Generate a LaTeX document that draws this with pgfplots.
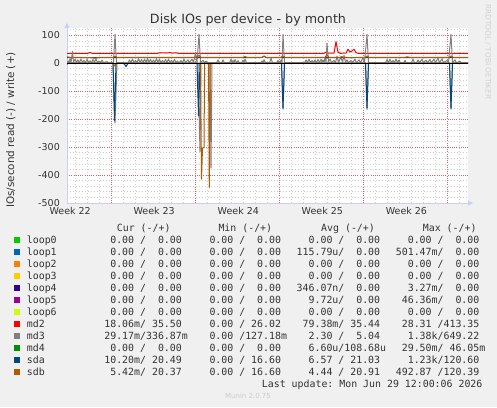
\documentclass[border=0pt]{standalone}
\usepackage{fontspec}
\setmainfont{DejaVu Sans}
\setmonofont{DejaVu Sans Mono}
\usepackage{pgfplots}
\pgfplotsset{compat=1.18}
\usetikzlibrary{arrows.meta}
\definecolor{bgc}{HTML}{F0F0F0}
\definecolor{txt}{HTML}{333333}
\definecolor{axc}{HTML}{C8D0F4}
\definecolor{gridc}{HTML}{CCCCCC}
\definecolor{mgridc}{HTML}{E06060}
\definecolor{cloopa}{HTML}{00CC00}
\definecolor{cloopb}{HTML}{0066B3}
\definecolor{cloopc}{HTML}{FF8000}
\definecolor{cloopd}{HTML}{FFCC00}
\definecolor{cloope}{HTML}{330099}
\definecolor{cloopf}{HTML}{990099}
\definecolor{cloopg}{HTML}{CCFF00}
\definecolor{cmdb}{HTML}{FF0000}
\definecolor{cmdc}{HTML}{808080}
\definecolor{cmdd}{HTML}{008F00}
\definecolor{csda}{HTML}{00487D}
\definecolor{csdb}{HTML}{B35A00}
\newcommand\lfont{\ttfamily\fontsize{9.9}{11}\selectfont}
\newcommand\lrow[7]{%
  \pgfmathsetmacro\by{163.7-12*#1}%
  \fill[#2] (14,\by+0.6) rectangle (20,\by+6.0);%
  \node[anchor=base west, inner sep=0pt, font=\lfont, text=txt] at (26.7,\by) {#3};%
  \node[anchor=base west, inner sep=0pt, font=\lfont, text=txt] at (98.2,\by) {#4};%
  \node[anchor=base west, inner sep=0pt, font=\lfont, text=txt] at (197.4,\by) {#5};%
  \node[anchor=base west, inner sep=0pt, font=\lfont, text=txt] at (296.5,\by) {#6};%
  \node[anchor=base west, inner sep=0pt, font=\lfont, text=txt] at (395.7,\by) {#7};%
}
\begin{document}
\begin{tikzpicture}[x=1pt,y=1pt]
\useasboundingbox (0,0) rectangle (497,407);
\fill[bgc] (0,0) rectangle (497,407);
\begin{axis}[
  at={(67pt,204pt)}, anchor=south west,
  width=401pt, height=175pt, scale only axis,
  xmin=67, xmax=468, ymin=-500, ymax=126,
  axis lines=left,
  axis line style={draw=axc, line width=0.9pt, shorten >=-5pt, -{Triangle[length=5pt,width=5pt]}},
  axis background/.style={fill=white},
  major tick length=0pt, minor tick length=0pt,
  xtick={111.2,195.3,279.3,363.4,447.4},
  xticklabels={},
  minor xtick={75.2,87.2,99.2,123.2,135.2,147.2,159.3,171.3,183.3,207.3,219.3,231.3,243.3,255.3,267.3,291.3,303.3,315.3,327.3,339.4,351.4,375.4,387.4,399.4,411.4,423.4,435.4,459.4},
  extra x ticks={70.2,154.2,238.3,322.3,406.4},
  extra x tick labels={Week 22,Week 23,Week 24,Week 25,Week 26},
  extra x tick style={grid=none},
  ytick={-500,-400,-300,-200,-100,0,100},
  yticklabels={-500,-400,-300,-200,-100,0,100},
  minor ytick={-480,-460,-440,-420,-380,-360,-340,-320,-280,-260,-240,-220,-180,-160,-140,-120,-80,-60,-40,-20,20,40,60,80,120},
  xmajorgrids=true, ymajorgrids=true, yminorgrids=true, xminorgrids=true,
  major grid style={draw=mgridc, line width=0.8pt, dash pattern=on 1pt off 1.2pt},
  minor grid style={draw=gridc, line width=0.7pt, dash pattern=on 1pt off 2pt},
  tick label style={font=\fontsize{9.5}{10}\selectfont, text=txt},
  xticklabel style={anchor=north, inner sep=0pt, yshift=-4.5pt},
  yticklabel style={anchor=east, inner sep=0pt, xshift=-7pt},
  every axis plot/.append style={line width=1pt, line join=round, mark=none},
]
% md2 write
\addplot[cmdb] coordinates {(67,35.5)(88,35.5)(90,38)(92,35.5)(158,35.5)(160,37.5)(166,36.5)(170,38)(172,36)(176,37.5)(178,35.5)(324,35.5)(326,40)(328,36)(334,36)(336,77)(338,40)(340,35.5)(346,36)(348,50)(350,40)(352,44)(354,50)(356,38)(358,35.5)(468,35.5)};
% md2 read
\addplot[cmdb] coordinates {(67,0)(468,0)};
% md3 read
\addplot[cmdc] coordinates {(67,0)(113,0)(115,-213)(117,0)(198,0)(200,-316)(201,0)(210,0)(211,-375)(212,0)(281.5,0)(283,-165)(284.5,0)(365.5,0)(367,-165)(368.5,0)(449.5,0)(451,-165)(452.5,0)(468,0)};
% md3 write
\addplot[cmdc] coordinates {(67,2)(68,8)(69,2)(70,16)(71,2)(72.5,42)(73.5,3)(75,14)(76.5,3)(78,12)(79.5,2)(81,15)(82.5,3)(84,10)(85.5,2)(87,14)(88.5,3)(90,9)(91.5,2)(93,13)(94.5,3)(96,16)(97.5,2)(99,8)(100.5,2)(102,11)(103.5,2)(107,6)(108.5,1)(113.5,1)(115,103)(116.5,1)(128,1)(129.5,12)(131,2)(132.5,15)(134,2)(135.5,10)(137,2)(138.5,16)(140,3)(141.5,13)(143,2)(144.5,15)(146,2)(147.5,17)(149,3)(150.5,14)(152,2)(153.5,12)(155,2)(156.5,16)(158,3)(159.5,14)(161,2)(162.5,10)(164,2)(165.5,13)(167,2)(168.5,15)(170,2)(171.5,11)(173,2)(174.5,14)(176,2)(177.5,8)(179,1)(181,10)(182.5,2)(184,15)(185.5,2)(188,12)(189.5,2)(192,14)(193.5,3)(195.5,37)(197,3)(199,103)(200.5,3)(203,10)(204.5,2)(206,8)(207.5,1)(216.5,1)(218,12)(219.5,1)(221.5,1)(223,12)(224.5,1)(229.5,1)(231,14)(232,3)(233,10)(234,3)(235,13)(236.5,2)(238,9)(239.5,1)(241.5,1)(243,11)(244,3)(245,15)(246.5,1)(260.5,1)(262,8)(263,2)(264,13)(265.5,1)(269.5,1)(271,18)(272.5,1)(276.5,1)(278,10)(279.5,1)(280,1)(281,12)(282,2)(283,103)(284.5,1)(304.5,1)(306,12)(307.5,2)(309,14)(310.5,2)(312,10)(313.5,2)(315,12)(316.5,2)(318,13)(319.5,2)(321,14)(322,3)(323,12)(324,3)(325,18)(326,4)(327,72)(328.5,4)(330,15)(331.5,2)(334,10)(335.5,2)(337,25)(338.5,3)(341,22)(342.5,3)(344,28)(345.5,3)(347,12)(348.5,2)(351,10)(352.5,2)(355,14)(356.5,2)(359,12)(360.5,2)(363,20)(364.5,2)(367,103)(368.5,1)(385.5,1)(387,13)(388.5,2)(390,14)(391.5,2)(393,10)(394.5,2)(396,15)(397.5,2)(399,12)(400.5,1)(403.5,1)(405,10)(406.5,1)(411.5,1)(413,15)(414.5,1)(416.5,1)(418,12)(419.5,2)(422,14)(423.5,2)(426,11)(427.5,2)(430,13)(431.5,2)(434,15)(435.5,2)(438,18)(439.5,2)(442,16)(443.5,2)(447,10)(448.5,2)(451,103)(452.5,1)(455,12)(456.5,1)(460,8)(461.5,1)(468,1)};
% sda read
\addplot[csda] coordinates {(67,-3)(69,0)(113,0)(114.5,-205)(116,0)(124,0)(126,-12)(128,0)(197,0)(198.5,-188)(200,0)(281.5,0)(283,-160)(284.5,0)(365.5,0)(367,-160)(368.5,0)(449.5,0)(451,-160)(452.5,0)(468,0)};
% sda write
\addplot[csda] coordinates {(67,20.3)(262,20.3)(264,26)(266,20.3)(468,20.3)};
% sdb read
\addplot[csdb] coordinates {(67,0)(113,0)(115,-10)(117,0)(200.5,0)(201.5,-415)(202.5,-303)(204,-303)(204.6,0)(208.5,0)(209.3,-444)(210.2,0)(468,0)};
% sdb write
\addplot[csdb] coordinates {(67,23)(70,21)(90,20)(95,18)(100,21)(113,21)(115,25)(117,21)(197,21)(199,28)(201,21)(243,21)(245,24)(247,21)(262,21)(264,24)(266,21)(281,21)(283,26)(285,21)(325,21)(327,30)(329,21)(340,21)(342,24)(344,18)(346,22)(348,20)(365,21)(367,26)(369,21)(405,21)(407,23)(410,21)(449,21)(451,26)(453,21)(468,21)};
% zero rule
\addplot[black, line width=1pt] coordinates {(67,0)(468,0)};
\end{axis}
% title
\node[anchor=base, inner sep=0pt, text=txt, font=\fontsize{12.7}{14}\selectfont] at (248,383.5) {Disk IOs per device - by month};
% y label
\node[rotate=90, inner sep=0pt, text=txt, font=\fontsize{10.4}{12}\selectfont] at (10.8,277) {IOs/second read (-) / write (+)};
% rrdtool label
\node[rotate=-90, inner sep=0pt, text=black!18, font=\fontsize{7.4}{8}\selectfont] at (488,355) {RRDTOOL / TOBI OETIKER};
% legend header
\node[anchor=base west, inner sep=0pt, font=\lfont, text=txt] at (116.7,175.7) {Cur~(-/+)};
\node[anchor=base west, inner sep=0pt, font=\lfont, text=txt] at (218.3,175.7) {Min~(-/+)};
\node[anchor=base west, inner sep=0pt, font=\lfont, text=txt] at (321,175.7) {Avg~(-/+)};
\node[anchor=base west, inner sep=0pt, font=\lfont, text=txt] at (422.7,175.7) {Max~(-/+)};
\lrow{0}{cloopa}{loop0}{~~0.00~/~~0.00}{~~0.00~/~~0.00}{~~0.00~/~~0.00}{~~0.00~/~~0.00}
\lrow{1}{cloopb}{loop1}{~~0.00~/~~0.00}{~~0.00~/~~0.00}{115.79u/~~0.00}{501.47m/~~0.00}
\lrow{2}{cloopc}{loop2}{~~0.00~/~~0.00}{~~0.00~/~~0.00}{~~0.00~/~~0.00}{~~0.00~/~~0.00}
\lrow{3}{cloopd}{loop3}{~~0.00~/~~0.00}{~~0.00~/~~0.00}{~~0.00~/~~0.00}{~~0.00~/~~0.00}
\lrow{4}{cloope}{loop4}{~~0.00~/~~0.00}{~~0.00~/~~0.00}{346.07n/~~0.00}{~~3.27m/~~0.00}
\lrow{5}{cloopf}{loop5}{~~0.00~/~~0.00}{~~0.00~/~~0.00}{~~9.72u/~~0.00}{~46.36m/~~0.00}
\lrow{6}{cloopg}{loop6}{~~0.00~/~~0.00}{~~0.00~/~~0.00}{~~0.00~/~~0.00}{~~0.00~/~~0.00}
\lrow{7}{cmdb}{md2}{~18.06m/~35.50}{~~0.00~/~26.02}{~79.38m/~35.44}{~28.31~/413.35}
\lrow{8}{cmdc}{md3}{~29.17m/336.87m}{~~0.00~/127.18m}{~~2.30~/~~5.04}{~~1.38k/649.22}
\lrow{9}{cmdd}{md4}{~~0.00~/~~0.00}{~~0.00~/~~0.00}{~~6.60u/108.68u}{~29.50m/~46.05m}
\lrow{10}{csda}{sda}{~10.20m/~20.49}{~~0.00~/~16.60}{~~6.57~/~21.03}{~~1.23k/120.60}
\lrow{11}{csdb}{sdb}{~~5.42m/~20.37}{~~0.00~/~16.60}{~~4.44~/~20.91}{492.87~/120.39}
\node[anchor=base west, inner sep=0pt, font=\lfont, text=txt] at (261.7,19.7) {Last~update:~Mon~Jun~29~12:00:06~2026};
\node[inner sep=0pt, text=black!20, font=\fontsize{7}{8}\selectfont] at (248,11.3) {Munin 2.0.75};
\end{tikzpicture}
\end{document}
